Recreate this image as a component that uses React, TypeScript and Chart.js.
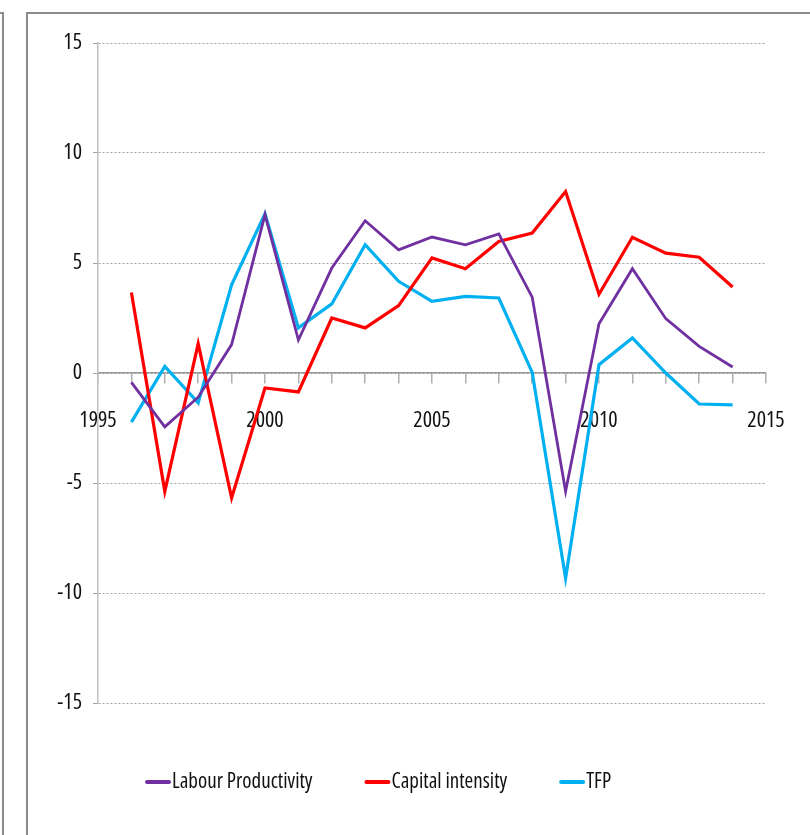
import React, { useEffect, useRef } from "react";
import { Chart, registerables } from "chart.js";

Chart.register(...registerables);

const years = [1996, 1997, 1998, 1999, 2000, 2001, 2002, 2003, 2004, 2005, 2006, 2007, 2008, 2009, 2010, 2011, 2012, 2013, 2014];
const labourProductivity = [-0.43, -2.45, -1.1, 1.29, 7.2, 1.5, 4.77, 6.92, 5.6, 6.18, 5.83, 6.32, 3.45, -5.38, 2.24, 4.74, 2.47, 1.21, 0.27];
const capitalIntensity = [3.66, -5.38, 1.33, -5.68, -0.68, -0.86, 2.5, 2.05, 3.06, 5.23, 4.74, 5.98, 6.36, 8.25, 3.58, 6.17, 5.45, 5.26, 3.91];
const tfp = [-2.23, 0.3, -1.36, 4.01, 7.24, 2.05, 3.14, 5.83, 4.17, 3.26, 3.48, 3.41, 0.03, -9.32, 0.38, 1.59, 0.0, -1.41, -1.45];
const seriesNames = ["Labour Productivity", "Capital intensity", "TFP"];
const seriesColors = ["#7030A0", "#FF0000", "#00B0F0"];
const xMin = 1995;
const xMax = 2015;
const yMin = -15;
const yMax = 15;

const FAMILY = "'Open Sans', 'Carlito', sans-serif";
const STRETCH = "condensed";
const TICK_SIZE = 22;
const LEGEND_SIZE = 21;
const TEXT_COLOR = "#111";

const framePlugin = {
  id: "frame",
  beforeDraw(chart: any) {
    const ctx = chart.ctx;
    ctx.save();
    ctx.strokeStyle = "#8c8c8c";
    ctx.lineWidth = 2;
    ctx.beginPath();
    ctx.moveTo(0, 13);
    ctx.lineTo(3, 13);
    ctx.lineTo(3, chart.height);
    ctx.stroke();
    ctx.beginPath();
    ctx.moveTo(27, chart.height);
    ctx.lineTo(27, 13);
    ctx.lineTo(chart.width, 13);
    ctx.stroke();
    ctx.restore();
  },
};

const legendPlugin = {
  id: "customLegend",
  afterDraw(chart: any) {
    const ctx = chart.ctx;
    ctx.save();
    ctx.font = `${STRETCH} ${LEGEND_SIZE}px ${FAMILY}`;
    ctx.textBaseline = "middle";
    ctx.textAlign = "left";
    let x = 145;
    const y = 782;
    chart.data.datasets.forEach((ds: any) => {
      ctx.strokeStyle = ds.borderColor;
      ctx.lineWidth = 4;
      ctx.lineCap = "round";
      ctx.beginPath();
      ctx.moveTo(x + 2, y);
      ctx.lineTo(x + 24, y);
      ctx.stroke();
      ctx.fillStyle = TEXT_COLOR;
      ctx.fillText(ds.label, x + 27, y);
      const w = ctx.measureText(ds.label).width;
      x = x + 27 + w + 52;
    });
    ctx.restore();
  },
};

export default function App() {
  const ref = useRef<HTMLCanvasElement | null>(null);
  useEffect(() => {
    if (!ref.current) return;
    const mk = (vals: number[]) => vals.map((v, i) => ({ x: years[i], y: v }));
    const seriesValues = [labourProductivity, capitalIntensity, tfp];
    const chart = new Chart(ref.current, {
      type: "line",
      data: {
        datasets: seriesValues.map((vals, i) => ({
          label: seriesNames[i],
          data: mk(vals),
          borderColor: seriesColors[i],
          backgroundColor: seriesColors[i],
          borderWidth: i === 0 ? 2.8 : 3.2,
          pointRadius: 0,
          tension: 0,
          fill: false,
        })),
      },
      options: {
        animation: false,
        responsive: false,
        layout: { padding: { left: 30, right: 44, top: 43, bottom: 132 } },
        plugins: {
          legend: { display: false },
          tooltip: { enabled: false },
        },
        scales: {
          x: {
            type: "linear",
            position: { y: 0 } as any,
            min: xMin,
            max: xMax,
            ticks: {
              stepSize: 1,
              autoSkip: false,
              maxRotation: 0,
              padding: 25,
              color: TEXT_COLOR,
              font: { family: FAMILY, size: TICK_SIZE, weight: STRETCH as any },
              callback: (v: any) => (Number(v) % 5 === 0 ? String(v) : ""),
            },
            grid: {
              drawOnChartArea: false,
              drawTicks: true,
              tickLength: 10,
              color: "#b0b0b0",
              lineWidth: 1.5,
            },
            border: { display: true, color: "#9a9a9a", width: 1.5 },
          },
          y: {
            min: yMin,
            max: yMax,
            afterFit: (s: any) => {
              s.width = 68;
            },
            ticks: {
              stepSize: 5,
              padding: 11,
              color: TEXT_COLOR,
              font: { family: FAMILY, size: TICK_SIZE, weight: STRETCH as any },
            },
            grid: {
              color: "#a0a0a0",
              lineWidth: 1,
              tickLength: 5,
            },
            border: { display: true, color: "#c0c0c0", width: 1.5, dash: [2, 2] },
          },
        },
      },
      plugins: [framePlugin, legendPlugin],
    });
    return () => chart.destroy();
  }, []);
  return (
    <div style={{ position: "fixed", left: 0, top: 0, width: 810, height: 835, background: "#fff" }}>
      <canvas ref={ref} width={810} height={835} style={{ display: "block" }} />
    </div>
  );
}
